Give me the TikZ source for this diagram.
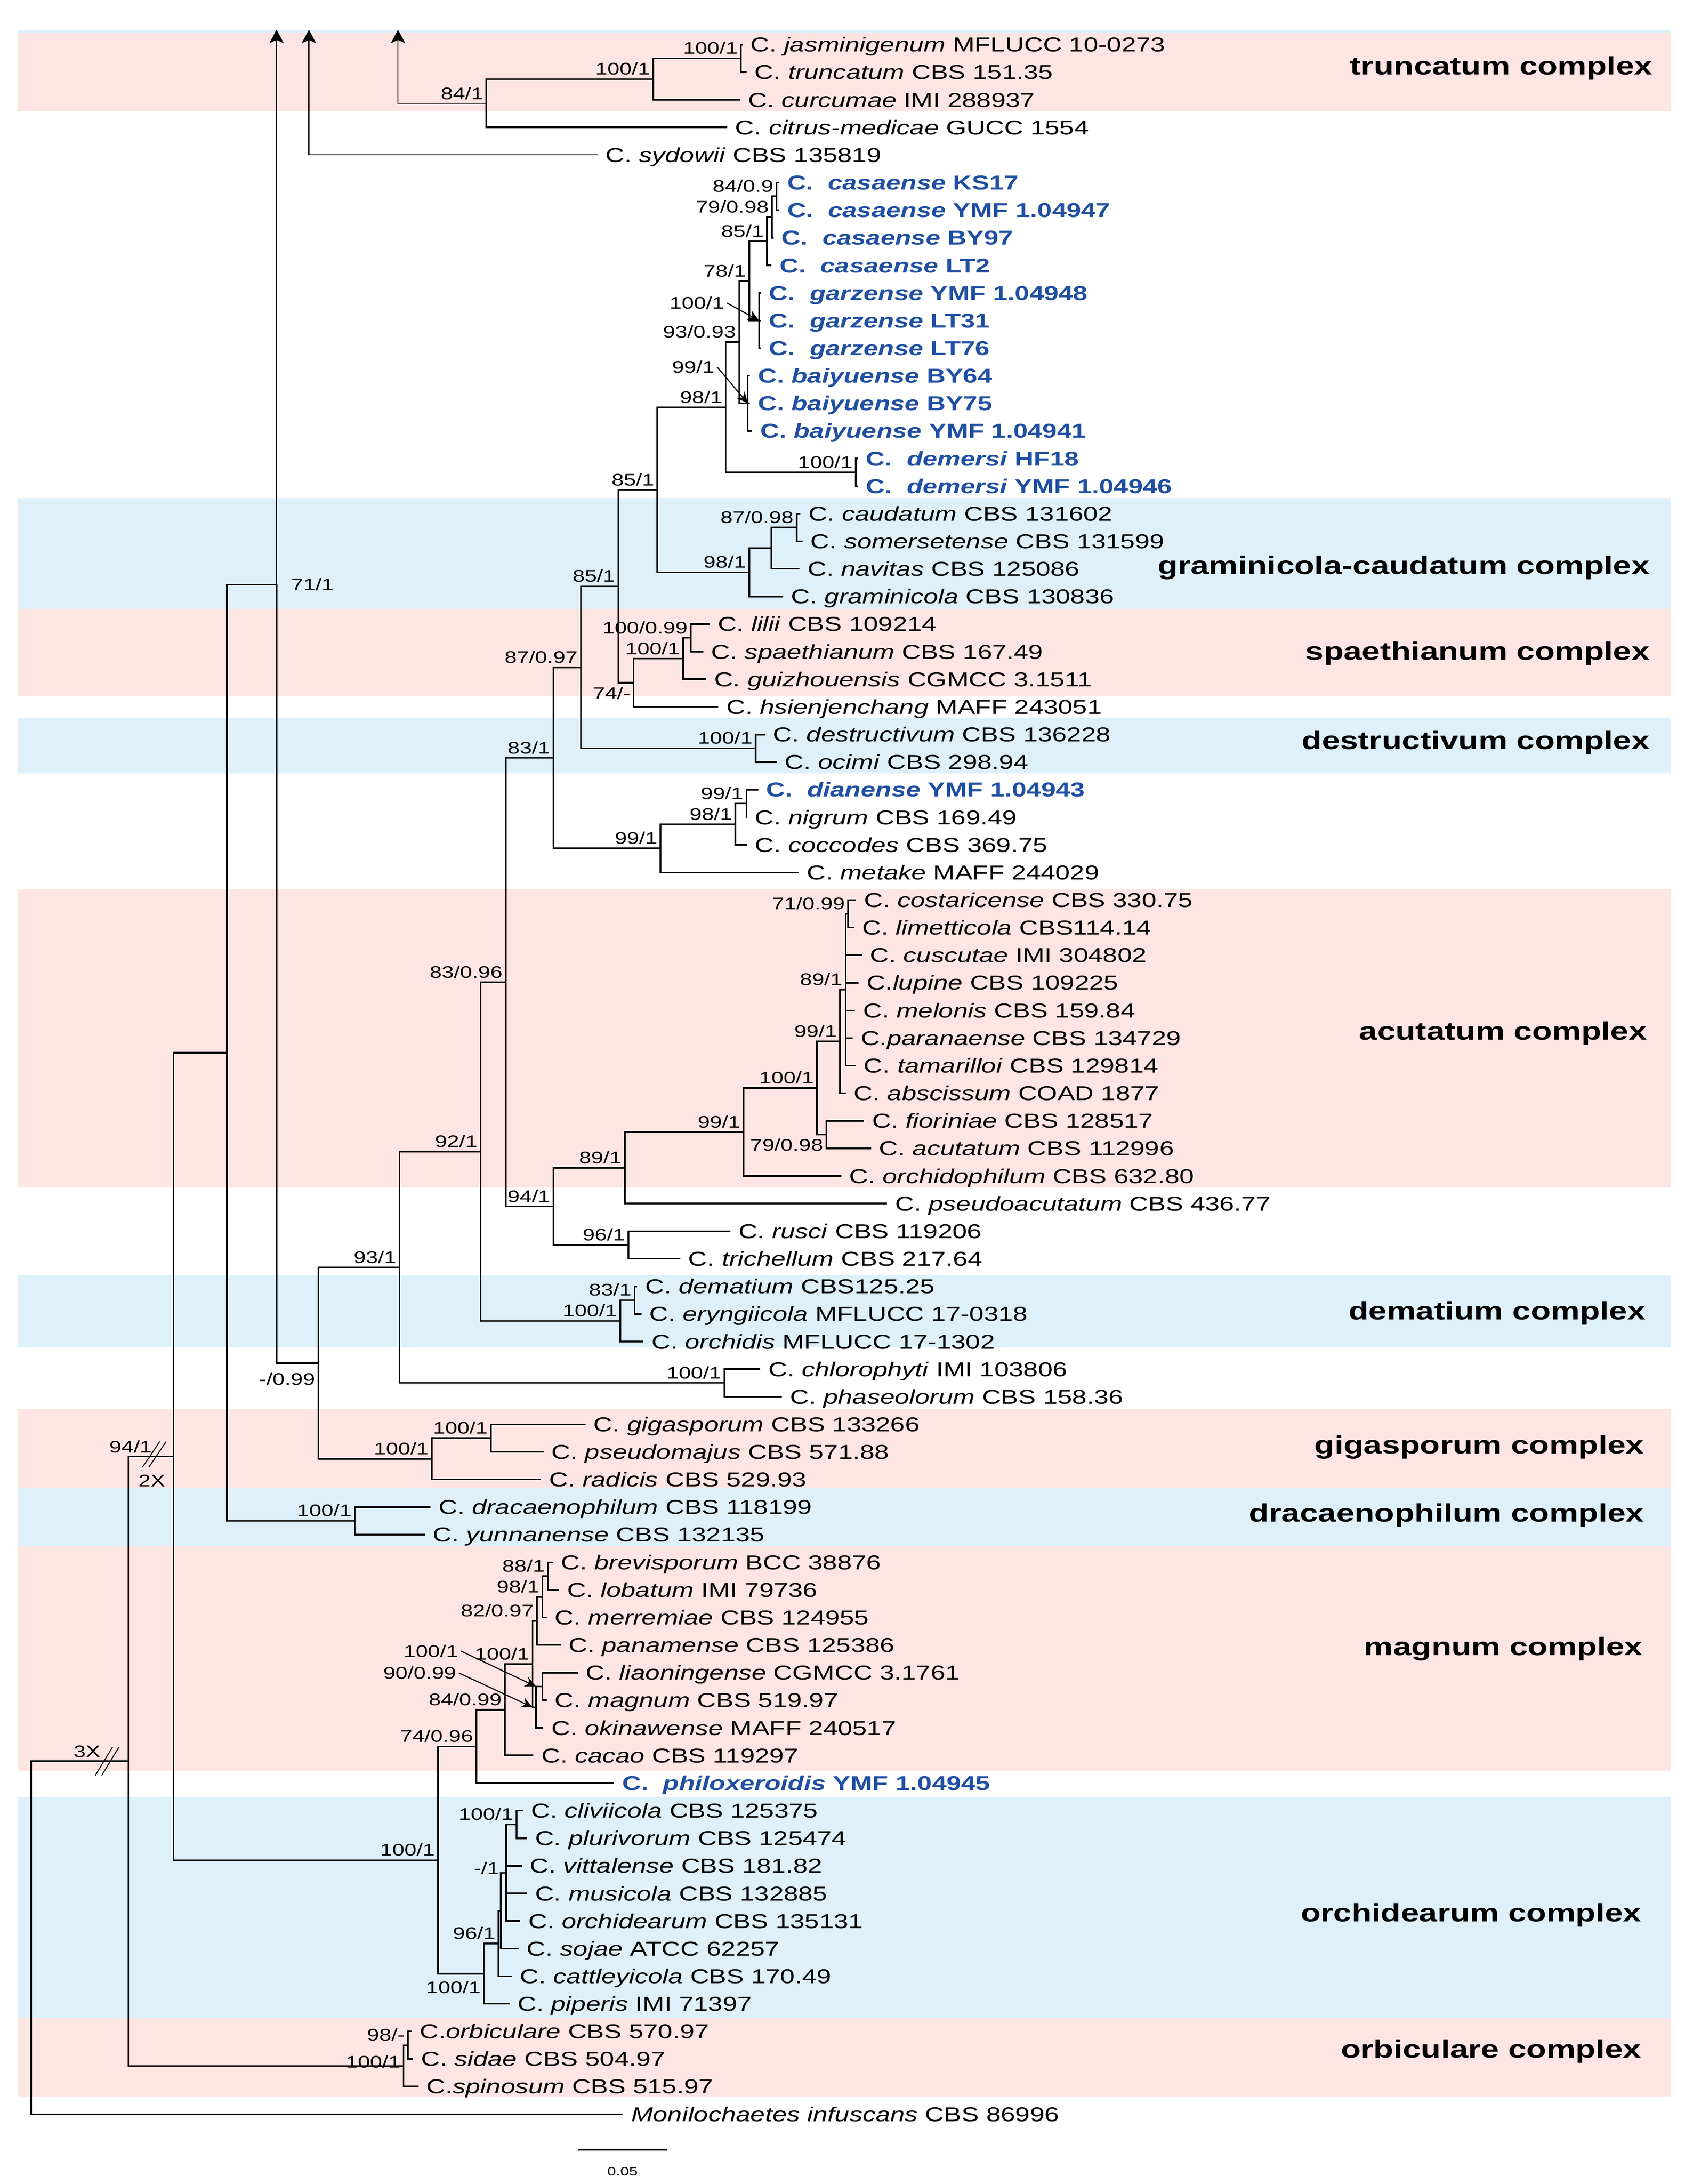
\documentclass[tikz,border=0pt]{standalone}
\usepackage{fontspec}
\setmainfont{Liberation Sans}[FakeStretch=1.3]
\usetikzlibrary{arrows.meta, positioning}

\definecolor{pinkbg}{RGB}{253,229,228}
\definecolor{bluebg}{RGB}{222,241,250}
\definecolor{newcol}{RGB}{31,79,163}

\tikzstyle{br}    = [draw, line width=1pt]
\tikzstyle{el}    = [to path={|- (\tikztotarget) \tikztonodes}]
\tikzstyle{up}    = [draw, line width=0.7pt, -{Stealth[length=8.5pt, width=9pt, inset=2pt]}]
\tikzstyle{ptr}   = [draw, line width=0.7pt, -{Stealth[length=7pt, width=6.5pt]}]
\tikzstyle{brk}   = [draw, line width=0.6pt]
\tikzstyle{tx}    = [anchor=west, inner xsep=4.9pt, inner ysep=0pt, text height=9.1pt, text depth=0pt, font=\fontsize{12.7}{14}\selectfont]
\tikzstyle{txn}   = [tx, text=newcol, font=\fontsize{12.7}{14}\selectfont\bfseries]
\tikzstyle{lab}   = [anchor=south east, inner xsep=1.5pt, inner ysep=2.2pt, text height=7.6pt, text depth=0pt, font=\fontsize{10.6}{12}\selectfont]
\tikzstyle{bs}    = [lab, pos=1]
\tikzstyle{bsb}   = [bs, anchor=north east]
\tikzstyle{cplx}  = [anchor=east, inner sep=0pt, text height=11.4pt, text depth=0pt, font=\fontsize{15.9}{18}\selectfont\bfseries]
\tikzstyle{pband} = [fill=pinkbg]
\tikzstyle{bband} = [fill=bluebg]

\begin{document}
\begin{tikzpicture}[x=0.03087cm, y=-0.03087cm]

\useasboundingbox (0,0) rectangle (1209.9,1567.9);

% bands
\fill [bband] (13,  21.4) rectangle (1199.5,  23.2);
\fill [pband] (13,  23.2) rectangle (1199.5,  79.7);
\fill [bband] (13, 357.7) rectangle (1199.5, 437.0);
\fill [pband] (13, 437.0) rectangle (1199.5, 499.5);
\fill [bband] (13, 515.5) rectangle (1199.5, 555.2);
\fill [pband] (13, 638.6) rectangle (1199.5, 852.6);
\fill [bband] (13, 915.3) rectangle (1199.5, 967.4);
\fill [pband] (13,1011.7) rectangle (1199.5,1068.3);
\fill [bband] (13,1068.3) rectangle (1199.5,1109.9);
\fill [pband] (13,1109.9) rectangle (1199.5,1271.0);
\fill [bband] (13,1290.0) rectangle (1199.5,1448.6);
\fill [pband] (13,1448.6) rectangle (1199.5,1504.9);

% complexes
\node [cplx] at (1186.8,  47.0) (kTru) {truncatum complex};
\node [cplx] at (1184.8, 405.7) (kGra) {graminicola-caudatum complex};
\node [cplx] at (1184.8, 467.2) (kSpa) {spaethianum complex};
\node [cplx] at (1184.8, 531.5) (kDes) {destructivum complex};
\node [cplx] at (1182.8, 740.0) (kAcu) {acutatum complex};
\node [cplx] at (1181.8, 941.0) (kDem) {dematium complex};
\node [cplx] at (1180.8,1037.0) (kGig) {gigasporum complex};
\node [cplx] at (1180.8,1086.0) (kDra) {dracaenophilum complex};
\node [cplx] at (1179.8,1182.0) (kMag) {magnum complex};
\node [cplx] at (1178.8,1373.0) (kOrc) {orchidearum complex};
\node [cplx] at (1178.8,1471.0) (kOrb) {orbiculare complex};

% leaves
\node [tx]  at (533.2,  32.0) (jasm) {C. \textit{jasminigenum} MFLUCC 10-0273};
\node [tx]  at (536.1,  51.8) (trun) {C. \textit{truncatum} CBS 151.35};
\node [tx]  at (531.5,  71.6) (curc) {C. \textit{curcumae} IMI 288937};
\node [tx]  at (522.2,  91.4) (citr) {C. \textit{citrus-medicae} GUCC 1554};
\node [tx]  at (429.1, 111.2) (sydo) {C. \textit{sydowii} CBS 135819};
\node [txn] at (559.5, 131.1) (cas1) {C.~~\textit{casaense} KS17};
\node [txn] at (559.5, 150.9) (cas2) {C.~~\textit{casaense} YMF 1.04947};
\node [txn] at (555.5, 170.7) (cas3) {C.~~\textit{casaense} BY97};
\node [txn] at (554.1, 190.5) (cas4) {C.~~\textit{casaense} LT2};
\node [txn] at (546.5, 210.3) (gar1) {C.~~\textit{garzense} YMF 1.04948};
\node [txn] at (546.5, 230.1) (gar2) {C.~~\textit{garzense} LT31};
\node [txn] at (546.5, 249.9) (gar3) {C.~~\textit{garzense} LT76};
\node [txn] at (538.5, 269.7) (bai1) {C. \textit{baiyuense} BY64};
\node [txn] at (538.5, 289.5) (bai2) {C. \textit{baiyuense} BY75};
\node [txn] at (540.1, 309.3) (bai3) {C. \textit{baiyuense} YMF 1.04941};
\node [txn] at (616.1, 329.2) (dem1) {C.~~\textit{demersi} HF18};
\node [txn] at (616.1, 349.0) (dem2) {C.~~\textit{demersi} YMF 1.04946};
\node [tx]  at (574.7, 368.8) (caud) {C. \textit{caudatum} CBS 131602};
\node [tx]  at (576.3, 388.6) (some) {C. \textit{somersetense} CBS 131599};
\node [tx]  at (574.1, 408.4) (navi) {C. \textit{navitas} CBS 125086};
\node [tx]  at (562.3, 428.2) (gram) {C. \textit{graminicola} CBS 130836};
\node [tx]  at (509.6, 448.0) (lili) {C. \textit{lilii} CBS 109214};
\node [tx]  at (505.0, 467.8) (spae) {C. \textit{spaethianum} CBS 167.49};
\node [tx]  at (507.0, 487.6) (guiz) {C. \textit{guizhouensis} CGMCC 3.1511};
\node [tx]  at (515.8, 507.4) (hsie) {C. \textit{hsienjenchang} MAFF 243051};
\node [tx]  at (549.3, 527.3) (dest) {C. \textit{destructivum} CBS 136228};
\node [tx]  at (557.7, 547.1) (ocim) {C. \textit{ocimi} CBS 298.94};
\node [txn] at (544.5, 566.9) (dian) {C.~~\textit{dianense} YMF 1.04943};
\node [tx]  at (536.3, 586.7) (nigr) {C. \textit{nigrum} CBS 169.49};
\node [tx]  at (536.3, 606.5) (cocc) {C. \textit{coccodes} CBS 369.75};
\node [tx]  at (573.5, 626.3) (meta) {C. \textit{metake} MAFF 244029};
\node [tx]  at (614.6, 646.1) (cost) {C. \textit{costaricense} CBS 330.75};
\node [tx]  at (613.3, 665.9) (lime) {C. \textit{limetticola} CBS114.14};
\node [tx]  at (619.0, 685.7) (cusc) {C. \textit{cuscutae} IMI 304802};
\node [tx]  at (616.5, 705.5) (lupi) {C.\textit{lupine} CBS 109225};
\node [tx]  at (614.0, 725.4) (melo) {C. \textit{melonis} CBS 159.84};
\node [tx]  at (612.3, 745.2) (para) {C.\textit{paranaense} CBS 134729};
\node [tx]  at (614.5, 765.0) (tama) {C. \textit{tamarilloi} CBS 129814};
\node [tx]  at (607.3, 784.8) (absc) {C. \textit{abscissum} COAD 1877};
\node [tx]  at (620.5, 804.6) (fior) {C. \textit{fioriniae} CBS 128517};
\node [tx]  at (625.5, 824.4) (acut) {C. \textit{acutatum} CBS 112996};
\node [tx]  at (604.0, 844.2) (orph) {C. \textit{orchidophilum} CBS 632.80};
\node [tx]  at (637.0, 864.0) (psac) {C. \textit{pseudoacutatum} CBS 436.77};
\node [tx]  at (524.5, 883.8) (rusc) {C. \textit{rusci} CBS 119206};
\node [tx]  at (488.5, 903.6) (tric) {C. \textit{trichellum} CBS 217.64};
\node [tx]  at (457.5, 923.5) (dema) {C. \textit{dematium} CBS125.25};
\node [tx]  at (460.5, 943.3) (eryn) {C. \textit{eryngiicola} MFLUCC 17-0318};
\node [tx]  at (462.1, 963.1) (orcs) {C. \textit{orchidis} MFLUCC 17-1302};
\node [tx]  at (545.9, 982.9) (chlo) {C. \textit{chlorophyti} IMI 103806};
\node [tx]  at (561.5,1002.7) (phas) {C. \textit{phaseolorum} CBS 158.36};
\node [tx]  at (420.5,1022.5) (giga) {C. \textit{gigasporum} CBS 133266};
\node [tx]  at (390.3,1042.3) (psmj) {C. \textit{pseudomajus} CBS 571.88};
\node [tx]  at (388.5,1062.1) (radi) {C. \textit{radicis} CBS 529.93};
\node [tx]  at (309.1,1081.9) (drac) {C. \textit{dracaenophilum} CBS 118199};
\node [tx]  at (305.0,1101.7) (yunn) {C. \textit{yunnanense} CBS 132135};
\node [tx]  at (397.0,1121.6) (brev) {C. \textit{brevisporum} BCC 38876};
\node [tx]  at (401.5,1141.4) (loba) {C. \textit{lobatum} IMI 79736};
\node [tx]  at (392.5,1161.2) (merr) {C. \textit{merremiae} CBS 124955};
\node [tx]  at (402.5,1181.0) (pana) {C. \textit{panamense} CBS 125386};
\node [tx]  at (414.9,1200.8) (liao) {C. \textit{liaoningense} CGMCC 3.1761};
\node [tx]  at (392.5,1220.6) (magn) {C. \textit{magnum} CBS 519.97};
\node [tx]  at (390.1,1240.4) (okin) {C. \textit{okinawense} MAFF 240517};
\node [tx]  at (383.0,1260.2) (caca) {C. \textit{cacao} CBS 119297};
\node [txn] at (441.0,1280.0) (phil) {C.~~\textit{philoxeroidis} YMF 1.04945};
\node [tx]  at (375.7,1299.8) (cliv) {C. \textit{cliviicola} CBS 125375};
\node [tx]  at (378.4,1319.7) (plur) {C. \textit{plurivorum} CBS 125474};
\node [tx]  at (374.7,1339.5) (vitt) {C. \textit{vittalense} CBS 181.82};
\node [tx]  at (378.4,1359.3) (musi) {C. \textit{musicola} CBS 132885};
\node [tx]  at (373.6,1379.1) (orcd) {C. \textit{orchidearum} CBS 135131};
\node [tx]  at (372.5,1398.9) (soja) {C. \textit{sojae} ATCC 62257};
\node [tx]  at (367.6,1418.7) (catt) {C. \textit{cattleyicola} CBS 170.49};
\node [tx]  at (365.9,1438.5) (pipe) {C. \textit{piperis} IMI 71397};
\node [tx]  at (295.5,1458.3) (orbi) {C.\textit{orbiculare} CBS 570.97};
\node [tx]  at (296.5,1478.1) (sida) {C. \textit{sidae} CBS 504.97};
\node [tx]  at (300.5,1497.9) (spin) {C.\textit{spinosum} CBS 515.97};
\node [tx]  at (447.5,1517.8) (moni) {\textit{Monilochaetes infuscans} CBS 86996};

% inner nodes
\coordinate (nT1)  at (532.0,  41.9);
\coordinate (nT2)  at (469.0,  56.8);
\coordinate (nT3)  at (349.0,  74.1);
\coordinate (nC1)  at (557.6, 141.0);
\coordinate (nC2)  at (554.3, 155.9);
\coordinate (nC3)  at (550.7, 173.2);
\coordinate (nC4)  at (538.0, 201.7);
\coordinate (nGz)  at (545.0, 230.1);
\coordinate (nC5)  at (530.7, 245.6);
\coordinate (nBy)  at (537.0, 289.5);
\coordinate (nC6)  at (521.0, 292.4);
\coordinate (nDe)  at (614.5, 339.1);
\coordinate (nC7)  at (472.0, 351.7);
\coordinate (nGr1) at (572.0, 378.7);
\coordinate (nGr2) at (554.0, 393.6);
\coordinate (nGr)  at (538.0, 410.9);
\coordinate (nC8)  at (444.0, 420.9);
\coordinate (nSp1) at (496.0, 457.9);
\coordinate (nSp2) at (490.5, 472.8);
\coordinate (nSp)  at (455.0, 490.1);
\coordinate (nC9)  at (417.0, 479.1);
\coordinate (nDs)  at (542.6, 537.2);
\coordinate (nC10) at (397.3, 544.1);
\coordinate (nDi1) at (536.0, 576.8);
\coordinate (nDi2) at (528.0, 591.7);
\coordinate (nDi)  at (474.3, 609.0);
\coordinate (nA6)  at (609.0, 656.0);
\coordinate (nA5)  at (607.2, 710.5);
\coordinate (nA4)  at (603.2, 747.7);
\coordinate (nA7)  at (593.3, 814.5);
\coordinate (nA3)  at (586.7, 781.1);
\coordinate (nA2)  at (533.8, 812.7);
\coordinate (nA1)  at (448.6, 838.4);
\coordinate (nRu)  at (451.2, 893.7);
\coordinate (nA0)  at (397.3, 866.1);
\coordinate (nC11) at (363.1, 705.1);
\coordinate (nDm1) at (455.7, 933.4);
\coordinate (nDm)  at (445.5, 948.3);
\coordinate (nC12) at (345.1, 826.7);
\coordinate (nCh)  at (520.2, 992.8);
\coordinate (nC13) at (286.8, 909.8);
\coordinate (nGi1) at (352.5,1032.4);
\coordinate (nGi)  at (310.0,1047.3);
\coordinate (nD)   at (228.5, 978.6);
\coordinate (n71)  at (198.6, 419.6);
\coordinate (nDr)  at (254.8,1091.8);
\coordinate (nB)   at (162.9, 755.7);
\coordinate (nM1)  at (393.5,1131.5);
\coordinate (nM2)  at (389.5,1146.4);
\coordinate (nM3)  at (385.5,1163.7);
\coordinate (nM5)  at (389.5,1210.7);
\coordinate (nM6)  at (384.9,1225.6);
\coordinate (nM4)  at (382.4,1194.7);
\coordinate (nM7)  at (362.5,1227.5);
\coordinate (nM8)  at (342.0,1253.8);
\coordinate (nO1)  at (370.9,1309.8);
\coordinate (nO2)  at (363.4,1344.5);
\coordinate (nO3)  at (359.6,1371.7);
\coordinate (nO4)  at (358.0,1395.2);
\coordinate (nO5)  at (347.5,1416.9);
\coordinate (nMO)  at (314.5,1335.4);
\coordinate (nE)   at (124.6,1045.6);
\coordinate (nOr1) at (292.9,1468.2);
\coordinate (nOr)  at (289.8,1483.1);
\coordinate (nF)   at ( 92.1,1264.4);
\coordinate (nR)   at ( 22.3,1391.1);

% truncated branch ends
\coordinate (upT)  at (285.8,  21.3);
\coordinate (upSy) at (221.8,  21.3);
\coordinate (up71) at (198.6,  21.3);

%  edges
\path [br, el]
  (nT1)  edge                                   (jasm.west)
  (nT1)  edge                                   (trun.west)
  (nT2)  edge node [bs] {100/1}                 (nT1)
  (nT2)  edge                                   (curc.west)
  (nT3)  edge node [bs] {100/1}                 (nT2)
  (nT3)  edge                                   (citr.west)

  (nC1)  edge                                   (cas1.west)
  (nC1)  edge                                   (cas2.west)
  (nC2)  edge node [bs] {84/0.9}                (nC1)
  (nC2)  edge                                   (cas3.west)
  (nC3)  edge node [bs] {79/0.98}               (nC2)
  (nC3)  edge                                   (cas4.west)
  (nC4)  edge node [bs] {85/1}                  (nC3)
  (nC4)  edge                                   (nGz)
  (nGz)  edge                                   (gar1.west)
  (nGz)  edge                                   (gar2.west)
  (nGz)  edge                                   (gar3.west)
  (nC5)  edge node [bs] {78/1}                  (nC4)
  (nC5)  edge                                   (nBy)
  (nBy)  edge                                   (bai1.west)
  (nBy)  edge                                   (bai2.west)
  (nBy)  edge                                   (bai3.west)
  (nC6)  edge node [bs] {93/0.93}               (nC5)
  (nC6)  edge node [bs] {100/1}                 (nDe)
  (nDe)  edge                                   (dem1.west)
  (nDe)  edge                                   (dem2.west)
  (nC7)  edge node [bs] {98/1}                  (nC6)
  (nC7)  edge node [bs] {98/1}                  (nGr)
  (nGr)  edge                                   (nGr2)
  (nGr)  edge                                   (gram.west)
  (nGr2) edge node [bs] {87/0.98}               (nGr1)
  (nGr2) edge                                   (navi.west)
  (nGr1) edge                                   (caud.west)
  (nGr1) edge                                   (some.west)
  (nC8)  edge node [bs] {85/1}                  (nC7)
  (nC8)  edge node [bsb] {74/-}                 (nSp)
  (nSp)  edge node [bs] {100/1}                 (nSp2)
  (nSp)  edge                                   (hsie.west)
  (nSp2) edge node [bs] {100/0.99}              (nSp1)
  (nSp2) edge                                   (guiz.west)
  (nSp1) edge                                   (lili.west)
  (nSp1) edge                                   (spae.west)
  (nC9)  edge node [bs] {85/1}                  (nC8)
  (nC9)  edge node [bs] {100/1}                 (nDs)
  (nDs)  edge                                   (dest.west)
  (nDs)  edge                                   (ocim.west)
  (nC10) edge node [bs] {87/0.97}               (nC9)
  (nC10) edge node [bs] {99/1}                  (nDi)
  (nDi)  edge node [bs] {98/1}                  (nDi2)
  (nDi)  edge                                   (meta.west)
  (nDi2) edge node [bs] {99/1}                  (nDi1)
  (nDi2) edge                                   (cocc.west)
  (nDi1) edge                                   (dian.west)
  (nDi1) edge                                   (nigr.west)

  (nA6)  edge                                   (cost.west)
  (nA6)  edge                                   (lime.west)
  (nA5)  edge node [bs] {71/0.99}               (nA6)
  (nA5)  edge                                   (cusc.west)
  (nA5)  edge                                   (lupi.west)
  (nA5)  edge                                   (melo.west)
  (nA5)  edge                                   (para.west)
  (nA5)  edge                                   (tama.west)
  (nA4)  edge node [bs] {89/1}                  (nA5)
  (nA4)  edge                                   (absc.west)
  (nA7)  edge                                   (fior.west)
  (nA7)  edge                                   (acut.west)
  (nA3)  edge node [bs] {99/1}                  (nA4)
  (nA3)  edge node [bsb] {79/0.98}              (nA7)
  (nA2)  edge node [bs] {100/1}                 (nA3)
  (nA2)  edge                                   (orph.west)
  (nA1)  edge node [bs] {99/1}                  (nA2)
  (nA1)  edge                                   (psac.west)
  (nRu)  edge                                   (rusc.west)
  (nRu)  edge                                   (tric.west)
  (nA0)  edge node [bs] {89/1}                  (nA1)
  (nA0)  edge node [bs] {96/1}                  (nRu)
  (nC11) edge node [bs] {83/1}                  (nC10)
  (nC11) edge node [bs] {94/1}                  (nA0)
  (nDm1) edge                                   (dema.west)
  (nDm1) edge                                   (eryn.west)
  (nDm)  edge node [bs] {83/1}                  (nDm1)
  (nDm)  edge                                   (orcs.west)
  (nC12) edge node [bs] {83/0.96}               (nC11)
  (nC12) edge node [bs] {100/1}                 (nDm)
  (nCh)  edge                                   (chlo.west)
  (nCh)  edge                                   (phas.west)
  (nC13) edge node [bs] {92/1}                  (nC12)
  (nC13) edge node [bs] {100/1}                 (nCh)
  (nGi1) edge                                   (giga.west)
  (nGi1) edge                                   (psmj.west)
  (nGi)  edge node [bs] {100/1}                 (nGi1)
  (nGi)  edge                                   (radi.west)
  (nD)   edge node [bs] {93/1}                  (nC13)
  (nD)   edge node [bs] {100/1}                 (nGi)
  (n71)  edge node [bsb, yshift=-3.5pt] {-/0.99} (nD)
  (nDr)  edge                                   (drac.west)
  (nDr)  edge                                   (yunn.west)
  (nB)   edge                                   (n71)
  (nB)   edge node [bs] {100/1}                 (nDr)

  (nM1)  edge                                   (brev.west)
  (nM1)  edge                                   (loba.west)
  (nM2)  edge node [bs] {88/1}                  (nM1)
  (nM2)  edge                                   (merr.west)
  (nM3)  edge node [bs] {98/1}                  (nM2)
  (nM3)  edge                                   (pana.west)
  (nM5)  edge                                   (liao.west)
  (nM5)  edge                                   (magn.west)
  (nM6)  edge                                   (nM5)
  (nM6)  edge                                   (okin.west)
  (nM4)  edge node [bs] {82/0.97}               (nM3)
  (nM4)  edge                                   (nM6)
  (nM7)  edge node [bs] {100/1}                 (nM4)
  (nM7)  edge                                   (caca.west)
  (nM8)  edge node [bs] {84/0.99}               (nM7)
  (nM8)  edge                                   (phil.west)
  (nO1)  edge                                   (cliv.west)
  (nO1)  edge                                   (plur.west)
  (nO2)  edge node [bs] {100/1}                 (nO1)
  (nO2)  edge                                   (vitt.west)
  (nO2)  edge                                   (musi.west)
  (nO2)  edge                                   (orcd.west)
  (nO3)  edge                                   (nO2)
  (nO3)  edge                                   (soja.west)
  (nO4)  edge                                   (nO3)
  (nO4)  edge                                   (catt.west)
  (nO5)  edge node [bs] {96/1}                  (nO4)
  (nO5)  edge                                   (pipe.west)
  (nMO)  edge node [bs] {74/0.96}               (nM8)
  (nMO)  edge node [bsb, yshift=-2pt] {100/1}   (nO5)
  (nE)   edge                                   (nB)
  (nE)   edge node [bs] {100/1}                 (nMO)

  (nOr1) edge                                   (orbi.west)
  (nOr1) edge                                   (sida.west)
  (nOr)  edge node [bs] {98/-}                  (nOr1)
  (nOr)  edge                                   (spin.west)
  (nF)   edge                                   (nE)
  (nF)   edge node [bs, yshift=-4pt] {100/1}    (nOr)
  (nR)   edge                                   (nF)
  (nR)   edge                                   (moni.west);

% branches running off the top
\draw [up] (nT3) -| (upT);
\draw [up] (sydo.west) -| (upSy);
\draw [up] (n71) -- (up71);
\node [lab] at (nT3) (lT3) {84/1};
\node [lab, anchor=west, xshift=7.5pt] at (n71) (l71) {71/1};

% crowded labels
\node [lab, anchor=east] at (522.0, 217.5) (lGz) {100/1};
\node [lab, anchor=east] at (515.0, 263.5) (lBy) {99/1};
\node [lab, anchor=east] at (331.0,1185.3) (lM5) {100/1};
\node [lab, anchor=east] at (329.5,1201.0) (lM6) {90/0.99};
\draw [ptr] (lGz.east) -- (nGz);
\draw [ptr] (lBy.east) -- (nBy);
\draw [ptr] (lM5.east) -- (nM6 |- nM5);
\draw [ptr] (lM6.east) -- (nM4 |- nM6);
\node [lab, anchor=east]  at (360.5,1341.1) (lO2) {-/1};
\node [lab]               at (111.0,1045.6) (lE)  {94/1};
\node [lab, anchor=north] at (109.0,1056.0) (lE2) {2X};
\node [lab]               at ( 74.0,1264.4) (lF)  {3X};

% breaks
\coordinate (cut2) at (110.8,1044.1);
\coordinate (cut3) at ( 76.9,1264.4);
\draw [brk] (cut2) ++(-8.5, 9.2) -- ++(12.4,-18.4);
\draw [brk] (cut2) ++(-3.9, 9.2) -- ++(12.4,-18.4);
\draw [brk] (cut3) ++(-8.5,10.2) -- ++(12.4,-20.4);
\draw [brk] (cut3) ++(-3.9,10.2) -- ++(12.4,-20.4);

% scale
\coordinate (sb1) at (415.4,1543.3);
\coordinate (sb2) at (479.0,1543.3);
\draw [br] (sb1) -- (sb2);
\node [font=\fontsize{7.6}{9}\selectfont] at (447.0,1559.0) (sbl) {0.05};

\end{tikzpicture}
\end{document}
